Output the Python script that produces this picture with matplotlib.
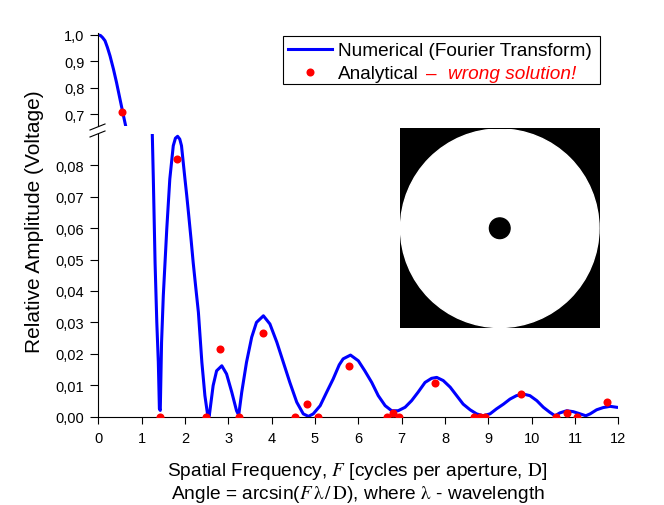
import matplotlib
matplotlib.use("Agg")
import matplotlib.pyplot as plt
from matplotlib.patches import Rectangle, Circle
from matplotlib.lines import Line2D
from matplotlib.ticker import FuncFormatter

plt.rcParams['font.family'] = ['Liberation Sans', 'DejaVu Sans']
plt.rcParams['mathtext.fontset'] = 'stix'

# numerical curve
freq = [0.0, 0.05, 0.10, 0.155, 0.21, 0.27, 0.35, 0.42, 0.50, 0.58, 0.63,
        1.245, 1.27, 1.31, 1.35, 1.385, 1.41, 1.43, 1.46, 1.50, 1.58, 1.65,
        1.73, 1.78, 1.83, 1.88, 1.92, 2.00, 2.04, 2.08, 2.14, 2.19, 2.25, 2.31,
        2.39, 2.46, 2.52, 2.56,
        2.65, 2.73, 2.85, 2.96, 3.08, 3.19, 3.24, 3.31, 3.42, 3.54, 3.65,
        3.81, 3.96, 4.12, 4.27, 4.42, 4.58, 4.73, 4.85, 4.96, 5.12, 5.27,
        5.42, 5.56, 5.65, 5.82, 6.00, 6.15, 6.31, 6.46, 6.62, 6.77, 6.92,
        7.08, 7.23, 7.38, 7.54, 7.69, 7.81, 7.96, 8.12, 8.27, 8.42, 8.58,
        8.73, 8.88, 9.04, 9.19, 9.35, 9.50, 9.65, 9.81, 9.96, 10.12, 10.27,
        10.42, 10.54, 10.65, 10.81, 10.96, 11.12, 11.25, 11.35, 11.50, 11.65,
        11.81, 11.96]
numerical = [1.0, 0.998, 0.99, 0.978, 0.953, 0.921, 0.87, 0.82, 0.757, 0.694, 0.656,
             0.0905, 0.0756, 0.049, 0.030, 0.0174, 0.0025, 0.002, 0.0237, 0.0385, 0.0597, 0.0756,
             0.0862, 0.0886, 0.0892, 0.0883, 0.0862, 0.0756, 0.0705, 0.065, 0.0565, 0.049, 0.041, 0.0332,
             0.0173, 0.0067, 0.0009, 0.0002,
             0.0099, 0.0146, 0.0162, 0.0136, 0.0078, 0.0019, 0.0005, 0.0078, 0.0173, 0.0253, 0.030,
             0.0321, 0.0295, 0.0237, 0.0173, 0.0109, 0.0046, 0.0009, 0.0001, 0.0009, 0.0035, 0.0078,
             0.0120, 0.0165, 0.0184, 0.0196, 0.0178, 0.0146, 0.0109, 0.0067, 0.0035, 0.0019, 0.0019,
             0.0030, 0.0051, 0.0078, 0.0109, 0.0122, 0.0125, 0.0115, 0.0094, 0.0067, 0.0040, 0.0022,
             0.0009, 0.0003, 0.0009, 0.0025, 0.0040, 0.0056, 0.0067, 0.0072, 0.0067, 0.0051, 0.0030,
             0.0014, 0.0003, 0.0012, 0.0019, 0.0016, 0.0009, 0.0003, 0.0009, 0.0022, 0.0029,
             0.0033, 0.0030]

# analytical points
freq_an = [0.555, 1.42, 1.81, 2.49, 2.82, 3.25, 3.81, 4.55, 4.81, 5.08, 5.79,
           6.66, 6.81, 6.95, 7.77, 8.67, 8.81, 8.92, 9.75, 10.56, 10.81, 11.04, 11.75]
analytical = [0.709, 0.0, 0.082, 0.0, 0.0216, 0.0, 0.0267, 0.0, 0.0040, 0.0, 0.0160,
              0.0, 0.0012, 0.0, 0.0107, 0.0, 0.0, 0.0, 0.0073, 0.0, 0.0011, 0.0, 0.0046]

xticks = list(range(0, 13))
low_ticks = [0.0, 0.01, 0.02, 0.03, 0.04, 0.05, 0.06, 0.07, 0.08]
high_ticks = [0.7, 0.8, 0.9, 1.0]
obscuration = 0.104   # central dot / aperture diameter in the inset

W, H = 664, 506
def fx(px):
    return px / W
def fy(py):
    return 1 - py / H

fig = plt.figure(figsize=(W / 100, H / 100), dpi=100)

left, right = 98.3, 618.3
ax = fig.add_axes([fx(left), fy(417.7), fx(right) - fx(left), fy(134.8) - fy(417.7)])
ax_top = fig.add_axes([fx(left), fy(126.7), fx(right) - fx(left), fy(34.4) - fy(126.7)])

for a in (ax, ax_top):
    a.plot(freq, numerical, color='#0000ff', lw=2.2, zorder=2)
    a.plot(freq_an, analytical, 'o', color='#ff0000', ms=5.8, mec='none', zorder=3)
    a.set_xlim(0, 12)
    a.spines['top'].set_visible(False)
    a.spines['right'].set_visible(False)
    a.spines['left'].set_linewidth(0.8)
    a.spines['bottom'].set_linewidth(0.8)
    a.tick_params(axis='y', direction='out', length=6, width=0.8, labelsize=10.5, pad=4)

ax.set_ylim(0, 0.09)
ax.set_yticks(low_ticks)
ax.yaxis.set_major_formatter(FuncFormatter(lambda v, p: ('%.2f' % v).replace('.', ',')))
ax.set_xticks(xticks)
ax.tick_params(axis='x', direction='out', length=5, width=0.8, labelsize=10.5, pad=5)

ax_top.set_ylim(0.6556, 1.006)
ax_top.set_yticks(high_ticks)
ax_top.yaxis.set_major_formatter(FuncFormatter(lambda v, p: ('%.1f' % v).replace('.', ',')))
ax_top.spines['bottom'].set_visible(False)
ax_top.set_xticks([])
ax_top.patch.set_alpha(0)

# break marks on the y axis
for y0 in (131, 138):
    fig.add_artist(Line2D([fx(90), fx(105)], [fy(y0), fy(y0 - 6)], color='black', lw=0.8))

# axis labels
fig.text(fx(35), fy(222), 'Relative Amplitude (Voltage)', rotation=90,
         ha='center', va='center', fontsize=15)
fig.text(fx(357.5), fy(476), r'Spatial Frequency, $F$ [cycles per aperture, $\mathrm{D}$]',
         ha='center', va='baseline', fontsize=13.8)
fig.text(fx(357.5), fy(499), r'Angle = arcsin($F\,\mathrm{\lambda}\,/\,\mathrm{D}$), where $\mathrm{\lambda}$ - wavelength',
         ha='center', va='baseline', fontsize=13.8)

# legend box
fig.add_artist(Rectangle((fx(283.3), fy(85)), fx(600) - fx(283.3), fy(37.3) - fy(85),
                         transform=fig.transFigure, fill=False, ec='black', lw=0.8))
fig.add_artist(Line2D([fx(288), fx(331.7)], [fy(50), fy(50)], color='#0000ff', lw=2.2))
fig.add_artist(Line2D([fx(310)], [fy(73.3)], marker='o', color='#ff0000', ms=5.8, mec='none'))
fig.text(fx(338.3), fy(56.5), 'Numerical (Fourier Transform)', fontsize=13.7, va='baseline')
fig.text(fx(338.3), fy(79), 'Analytical', fontsize=13.7, va='baseline')
fig.text(fx(426.5), fy(79), '\u2013', fontsize=13.7, va='baseline', color='#ff0000')
fig.text(fx(448), fy(79), 'wrong solution!', fontsize=13.7, va='baseline',
         color='#ff0000', style='italic')

# inset: annular aperture
ins = fig.add_axes([fx(400), fy(329), fx(599.5) - fx(400), fy(129.5) - fy(329)])
ins.set_facecolor('black')
ins.add_patch(Circle((0, 0), 1.0, color='white'))
ins.add_patch(Circle((0, 0), obscuration, color='black'))
ins.set_xlim(-1.005, 1.005)
ins.set_ylim(-1.005, 1.005)
ins.set_xticks([])
ins.set_yticks([])
for s in ins.spines.values():
    s.set_visible(False)

plt.savefig('out.png', dpi=100)
